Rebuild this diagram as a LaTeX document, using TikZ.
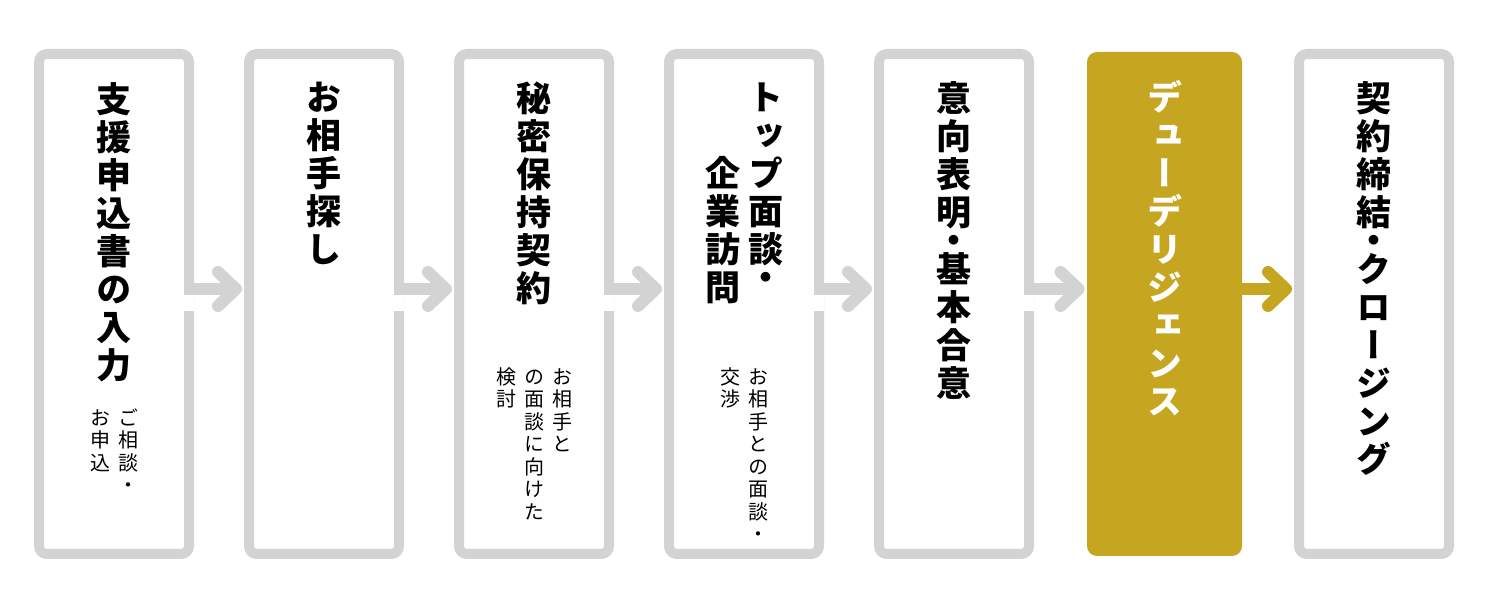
\documentclass[tikz,border=0pt]{standalone}
\usepackage{fontspec}
\newfontfamily\jp[RawFeature=+vert]{Noto Sans CJK JP}
\usetikzlibrary{arrows.meta,calc,positioning}

\definecolor{boxgray}{HTML}{D3D3D3}
\definecolor{gold}{HTML}{C6A621}

% senkrechte Spalte: ein Zeichen pro Zeile, Mittelpunkt evtl. schmaler
\newdimen\dotsqueeze \dotsqueeze=0pt
\def\tatechar#1{\ifx#1\relax\else
  \ifx#1・\vskip-\dotsqueeze\hbox to 1em{\hss#1\hss}\vskip-\dotsqueeze
  \else\hbox to 1em{\hss#1\hss}\fi
  \expandafter\tatechar\fi}
\newcommand\tate[1]{\vtop{\lineskiplimit=-100pt\tatechar#1\relax}}

\tikzset{
  stepbox/.style={draw=boxgray, fill=white, line width=5pt, rounded corners=4pt,
    minimum width=75pt, minimum height=250pt},
  goldbox/.style={fill=gold, rounded corners=5pt, minimum width=77.5pt, minimum height=252pt},
  steptitle/.style={inner sep=0pt,
    font=\jp\bfseries\fontsize{17.5pt}{19pt}\selectfont\setlength{\dotsqueeze}{4.75pt}},
  stepnote/.style={inner sep=0pt, font=\jp\fontsize{10pt}{11.25pt}\selectfont},
  flow/.style={line width=6pt, draw=boxgray, -{Straight Barb[length=9pt,width=17pt,round]},
    shorten >=1pt},
}

\begin{document}
\begin{tikzpicture}

% ---------- Rahmen ----------
\useasboundingbox (0,0) rectangle (750pt,300pt);

% ---------- Kaesten ----------
\foreach \i in {1,...,5,7}
  \node[stepbox] (s\i) at ({57pt+105pt*(\i-1)},148pt) {};
\node[goldbox] (s6) at (582.25pt,148pt) {};

% ---------- Pfeile ----------
\foreach \i/\j in {1/2,2/3,3/4,4/5,5/6} {
  \fill[white] ($(s\i.east)+(-5pt,-3.5pt)$) rectangle ($(s\i.east)+(0,4.5pt)$);
  \draw[flow] ($(s\i.east)+(0,7.5pt)$) -- ($(s\j.west)+(0,7.5pt)$);
}
\draw[flow, draw=gold] ($(s6.east)+(0,7.5pt)$) -- ($(s7.west)+(0,7.5pt)$);

% ---------- Titel ----------
\node[steptitle, below=16.5pt of s1.north] (t1) {\tate{支援申込書の入力}};
\node[steptitle, below=16.5pt of s2.north] (t2) {\tate{お相手探し}};
\node[steptitle, below=16.5pt of s3.north] (t3) {\tate{秘密保持契約}};
\node[steptitle, below=16.5pt of s4.north] (t4) {\tate{　　企業訪問}\hspace{4pt}\tate{トップ面談・}};
\node[steptitle, below=16pt of s5.north] (t5) {\tate{意向表明・基本合意}};
\node[steptitle, text=white, below=14pt of s6.north] (t6) {\tate{デューデリジェンス}};
\node[steptitle, below=16pt of s7.north] (t7) {\tate{契約締結・クロージング}};

% ---------- Hinweise ----------
\node[stepnote, below=179.5pt of s1.north] (n1) {\tate{お申込}\hspace{4pt}\tate{ご相談・}};
\node[stepnote, below=159pt of s3.north] (n3)
  {\tate{検討}\hspace{4pt}\tate{の面談に向けた}\hspace{4pt}\tate{お相手と}};
\node[stepnote, below=159pt of s4.north] (n4) {\tate{交渉}\hspace{4pt}\tate{お相手との面談・}};

\end{tikzpicture}
\end{document}
